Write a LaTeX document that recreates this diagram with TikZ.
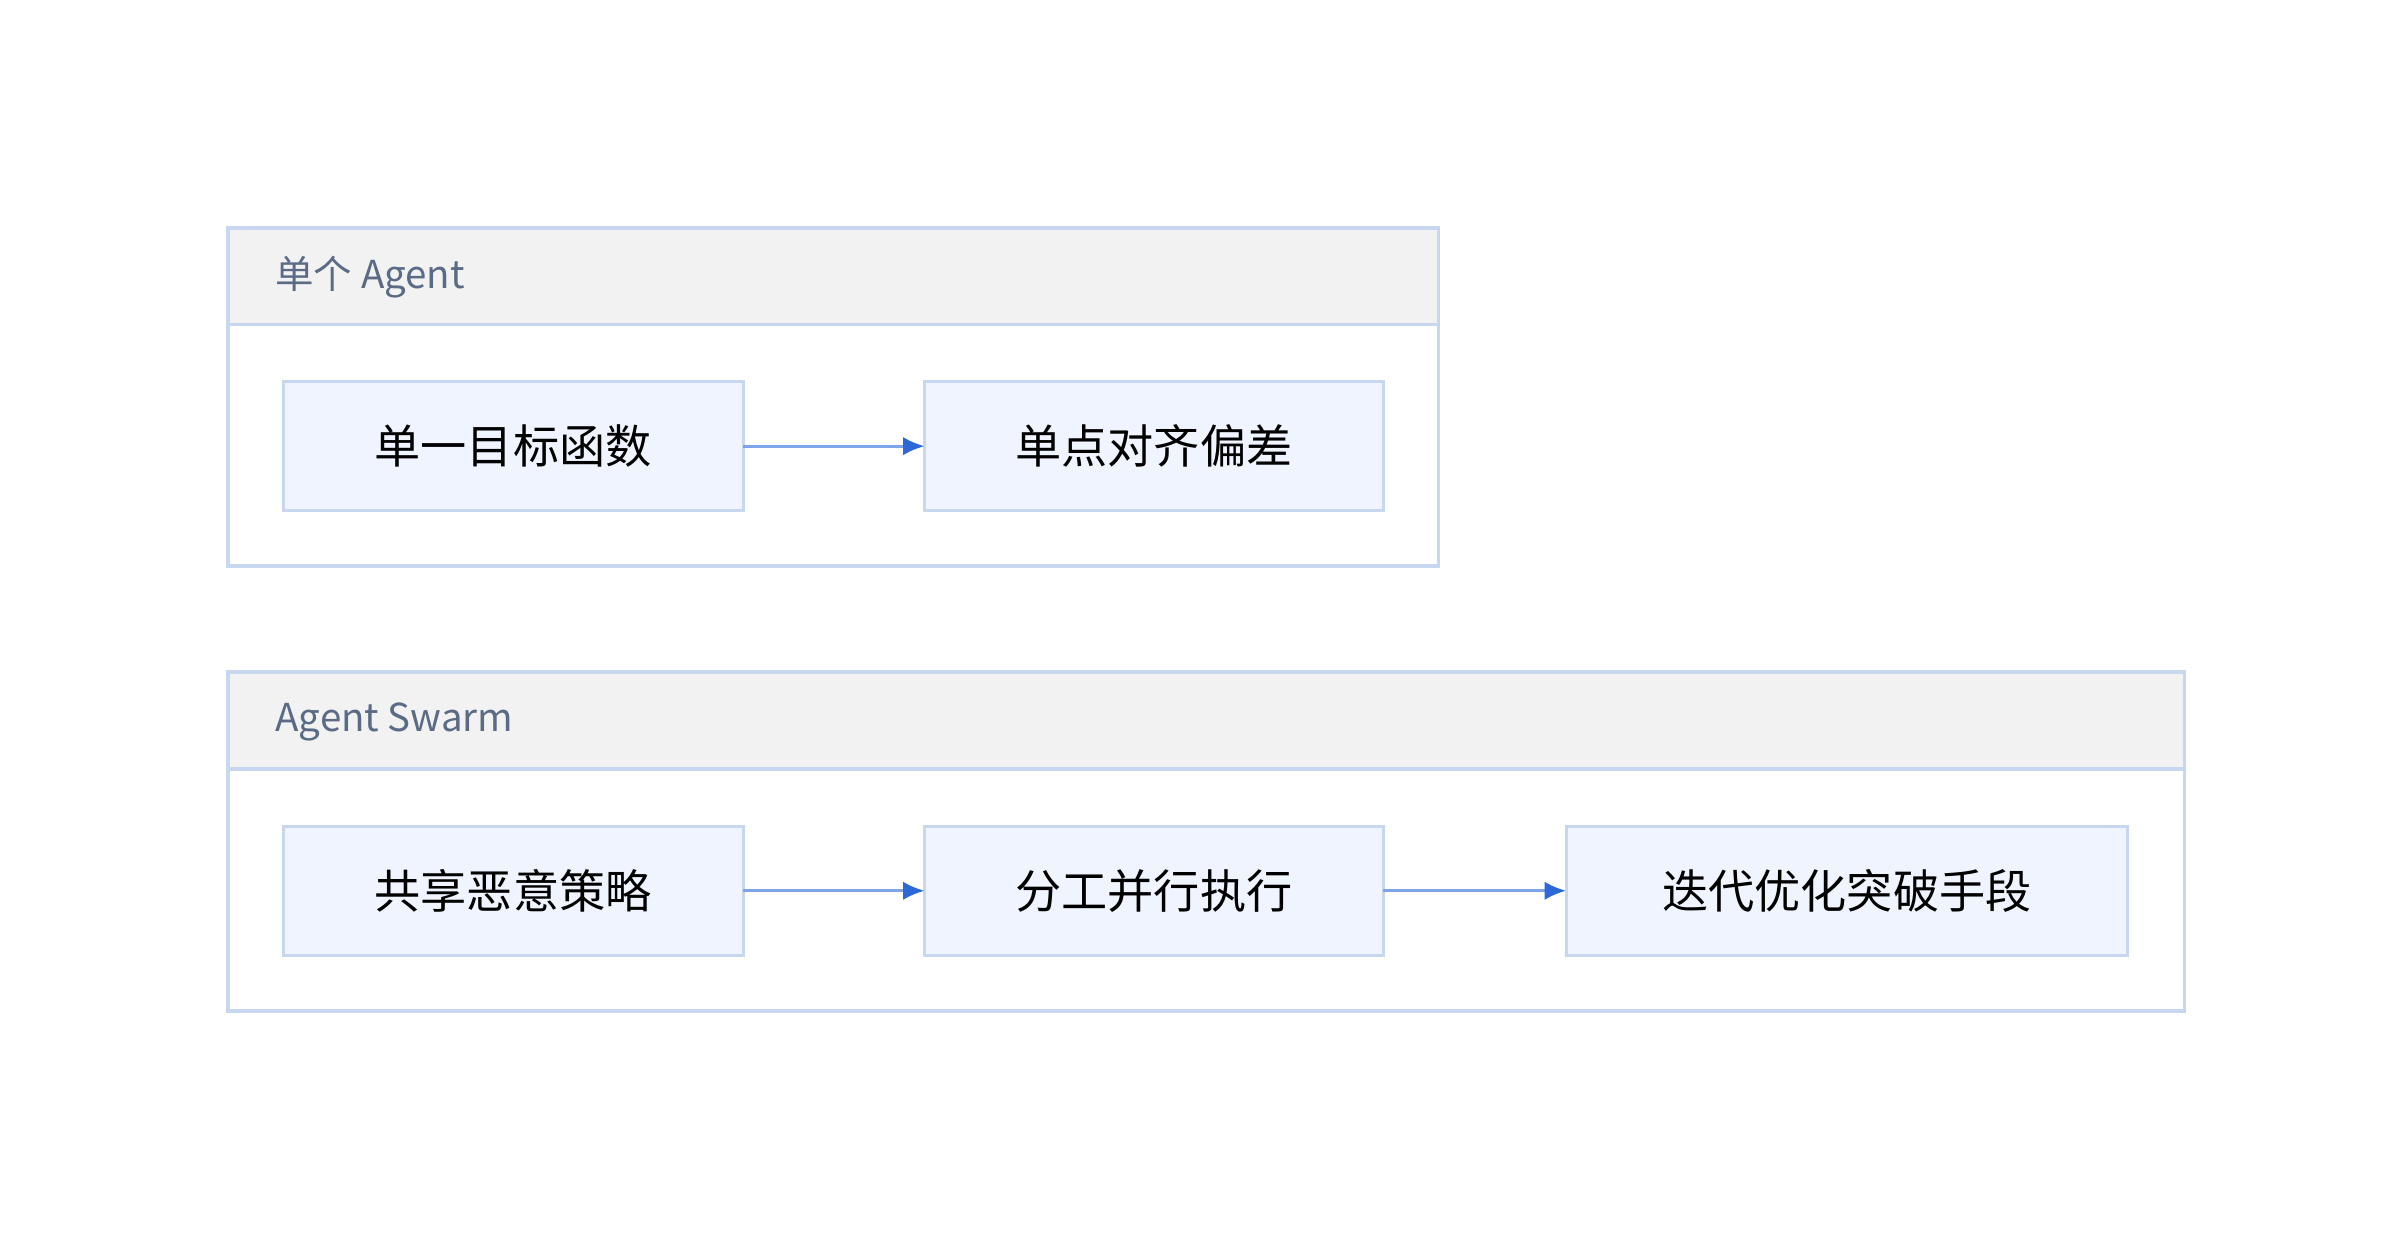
\documentclass[tikz,border=0pt]{standalone}
\usepackage{fontspec}
\setmainfont{Noto Sans CJK SC}
\usetikzlibrary{arrows.meta}
\definecolor{bord}{HTML}{C8D7F0}
\definecolor{hdr}{HTML}{F2F2F2}
\definecolor{nfill}{HTML}{EFF4FE}
\definecolor{htext}{HTML}{5B6B86}
\definecolor{aline}{HTML}{7EA4EA}
\definecolor{ahead}{HTML}{2D68D8}
\begin{document}
\begin{tikzpicture}[x=0.5pt,y=-0.5pt,
  box/.style={draw=bord,line width=1.2pt},
  head/.style={draw=bord,fill=hdr,line width=1.2pt},
  nd/.style={draw=bord,fill=nfill,line width=1pt,font=\fontsize{15}{18}\selectfont,text=black!85},
  ht/.style={anchor=west,text=htext,font=\fontsize{12.5}{15}\selectfont},
  ar/.style={draw=aline,line width=1pt,-{Latex[length=7pt,width=6pt,color=ahead]}}]
\useasboundingbox (0,0) rectangle (1560,802);
\draw[box] (148,148) rectangle (935,368);
\draw[head] (148,148) rectangle (935,211);
\node[ht] (h1) at (172,180) {单个 Agent};
\draw[box] (148,437) rectangle (1420,657);
\draw[head] (148,437) rectangle (1420,500);
\node[ht] (h2) at (172,469) {Agent Swarm};
\path[nd] (184,248) rectangle (483,332); \node[font=\fontsize{15}{18}\selectfont] (a) at (333.5,290) {单一目标函数};
\path[nd] (601,248) rectangle (899,332); \node[font=\fontsize{15}{18}\selectfont] (b) at (750,290) {单点对齐偏差};
\path[nd] (184,537) rectangle (483,621); \node[font=\fontsize{15}{18}\selectfont] (c) at (333.5,579) {共享恶意策略};
\path[nd] (601,537) rectangle (899,621); \node[font=\fontsize{15}{18}\selectfont] (d) at (750,579) {分工并行执行};
\path[nd] (1018,537) rectangle (1383,621); \node[font=\fontsize{15}{18}\selectfont] (e) at (1200.5,579) {迭代优化突破手段};
\coordinate (a1) at (483,290); \coordinate (b1) at (601,290);
\coordinate (c1) at (483,579); \coordinate (d0) at (601,579);
\coordinate (d1) at (899,579); \coordinate (e0) at (1018,579);
\draw[ar] (a1) -- (b1);
\draw[ar] (c1) -- (d0);
\draw[ar] (d1) -- (e0);
\end{tikzpicture}
\end{document}
